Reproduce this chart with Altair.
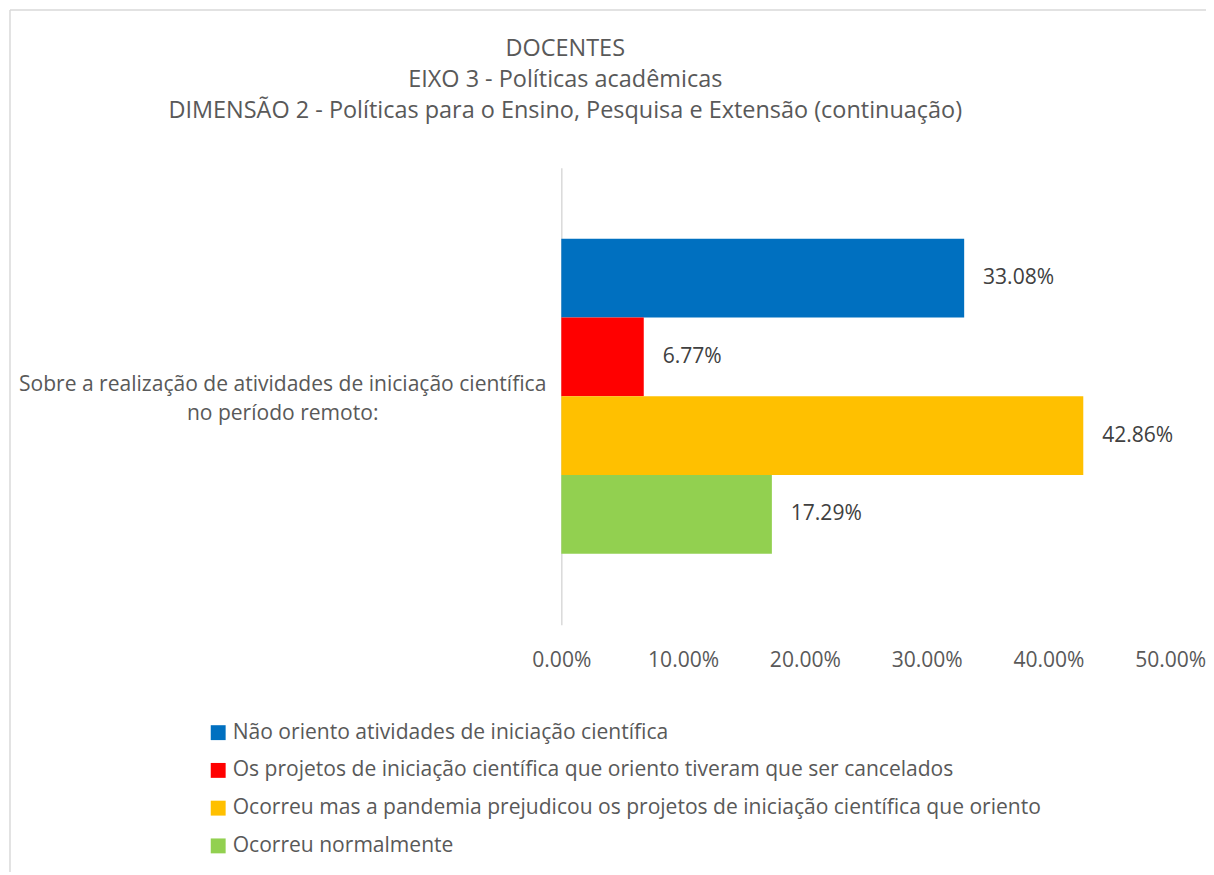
import altair as alt
import pandas as pd

title_lines = [
    "DOCENTES",
    "EIXO 3 - Políticas acadêmicas",
    "DIMENSÃO 2 -  Políticas para o Ensino, Pesquisa e Extensão (continuação)",
]
category_lines = [
    "Sobre a realização de atividades de iniciação científica",
    "no período remoto:",
]
series = [
    "Não oriento atividades de iniciação científica",
    "Os projetos de iniciação científica que oriento tiveram que ser cancelados",
    "Ocorreu mas a pandemia prejudicou os projetos de iniciação científica que oriento",
    "Ocorreu normalmente",
]
values = [0.3308, 0.0677, 0.4286, 0.1729]
colors = ["#0070C0", "#FF0000", "#FFC000", "#92D050"]
x_ticks = [0.0, 0.1, 0.2, 0.3, 0.4, 0.5]

category = "\n".join(category_lines)
df = pd.DataFrame({"categoria": [category] * len(series), "serie": series, "valor": values})

FONT = "Open Sans"
GRAY = "#595959"
FS = 21.2

W, H = 613, 460
PAD = {"left": 557, "top": 158, "right": 36, "bottom": 249}

base = alt.Chart(df).encode(
    y=alt.Y(
        "categoria:N",
        title=None,
        scale=alt.Scale(paddingInner=0, paddingOuter=0.2256),
        axis=alt.Axis(
            labelExpr="split(datum.label, '\\n')",
            labelAlign="center",
            labelBaseline="middle",
            labelPadding=281,
            labelOffset=-11,
            labelLimit=700,
            labelFontSize=FS,
            labelLineHeight=29,
            labelColor=GRAY,
            labelFont=FONT,
            ticks=False,
            domainColor="#d9d9d9",
            domainWidth=1.5,
            grid=False,
        ),
    ),
    yOffset=alt.YOffset("serie:N", sort=series, scale=alt.Scale(domain=series, paddingInner=0, paddingOuter=0)),
)

bars = base.mark_bar(cornerRadius=0).encode(
    x=alt.X(
        "valor:Q",
        title=None,
        scale=alt.Scale(domain=[0, 0.5], nice=False),
        axis=alt.Axis(
            values=x_ticks,
            format=".2%",
            labelFontSize=FS,
            labelColor=GRAY,
            labelFont=FONT,
            labelPadding=25,
            labelFlush=False,
            labelOverlap=False,
            ticks=False,
            domain=False,
            grid=False,
        ),
    ),
    color=alt.Color(
        "serie:N",
        sort=series,
        scale=alt.Scale(domain=series, range=colors),
        legend=alt.Legend(
            title=None,
            orient="none",
            legendX=-356,
            legendY=558,
            symbolType="square",
            symbolSize=225,
            symbolStrokeWidth=0,
            labelFontSize=FS,
            labelFont=FONT,
            labelColor=GRAY,
            labelLimit=900,
            labelOffset=4,
            rowPadding=16,
        ),
    ),
)

labels = base.mark_text(align="left", baseline="middle", dx=19, fontSize=FS, font=FONT, color="#404040").encode(
    x=alt.X("valor:Q"),
    text=alt.Text("valor:Q", format=".2%"),
)

# light grey chart-area frame (left and top edges visible in the reference)
frame_df = pd.DataFrame({"f": [0]})
frame_left = alt.Chart(frame_df).mark_rule(color="#d9d9d9", strokeWidth=1.5).encode(
    x=alt.value(-555), y=alt.value(-159), y2=alt.value(H + PAD["bottom"])
)
frame_top = alt.Chart(frame_df).mark_rule(color="#d9d9d9", strokeWidth=1.5).encode(
    y=alt.value(-159), x=alt.value(-555), x2=alt.value(W + PAD["right"])
)

chart = (
    alt.layer(bars, labels, frame_left, frame_top)
    .properties(
        width=W,
        height=H,
        autosize=alt.AutoSizeParams(type="none"),
        padding=PAD,
        background="white",
        title=alt.TitleParams(
            text=title_lines,
            anchor="start",
            align="center",
            frame="group",
            dx=4,
            offset=-114,
            fontSize=23.6,
            font=FONT,
            fontWeight="normal",
            color=GRAY,
            lineHeight=31,
        ),
    )
    .configure_view(stroke=None, strokeWidth=0)
)

chart.save("out.html", embed_options={"renderer": "svg", "actions": False})
